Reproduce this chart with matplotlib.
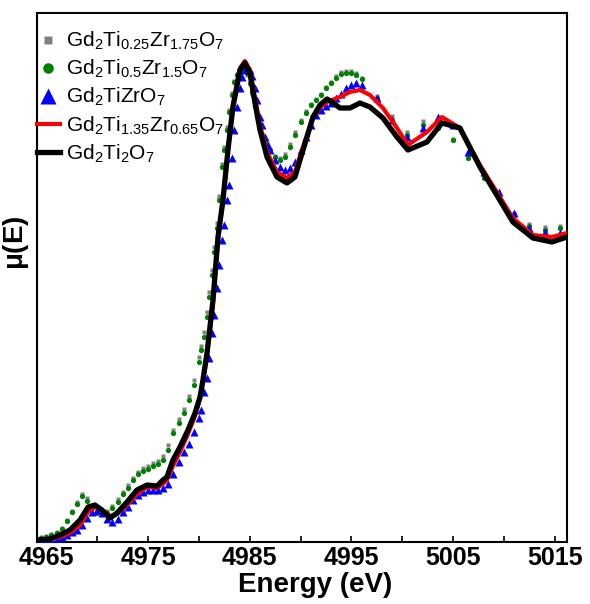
import numpy as np
import matplotlib
matplotlib.use("Agg")
import matplotlib.pyplot as plt

plt.rcParams["font.family"] = ["Liberation Sans", "DejaVu Sans"]
plt.rcParams["mathtext.fontset"] = "custom"
plt.rcParams["mathtext.rm"] = "Liberation Sans"
plt.rcParams["mathtext.it"] = "Liberation Sans:italic"
plt.rcParams["mathtext.bf"] = "Liberation Sans:bold"

# ------------------------------------------------------------------ #
#  Data (mu(E) in arbitrary units)
# ------------------------------------------------------------------ #
# energy grid of the line spectra (Ti/Zr-rich end members)
energy_line = [
    4964.1, 4965.36, 4966.34, 4967.32, 4968.31, 4969.1, 4969.78, 4970.47,
    4971.26, 4971.95, 4972.93, 4973.91, 4974.9, 4975.88, 4976.47, 4976.86,
    4977.45, 4978.14, 4978.93, 4979.62, 4980.11, 4980.4, 4980.8, 4981.09,
    4981.39, 4981.88, 4982.37, 4982.86, 4983.35, 4984.04, 4984.53, 4985.02,
    4985.52, 4986.01, 4986.7, 4987.68, 4988.66, 4989.45, 4989.94, 4990.63,
    4991.22, 4991.91, 4992.6, 4993.09, 4993.87, 4994.86, 4995.84, 4996.82,
    4998.1, 4999.48, 5000.56, 5002.43, 5003.9, 5005.67, 5007.64, 5010.88,
    5012.85, 5014.72, 5016.2,
]
mu_ti2 = [  # Gd2Ti2O7
    0.02, 0.03, 0.07, 0.12, 0.22, 0.35, 0.37, 0.32, 0.24, 0.29, 0.40, 0.52,
    0.57, 0.56, 0.62, 0.65, 0.82, 0.95, 1.12, 1.29, 1.45, 1.62, 1.89, 2.15,
    2.42, 3.05, 3.42, 3.92, 4.35, 4.72, 4.79, 4.69, 4.39, 4.12, 3.85, 3.65,
    3.59, 3.65, 3.82, 4.05, 4.25, 4.37, 4.43, 4.40, 4.34, 4.34, 4.39, 4.35,
    4.24, 4.05, 3.92, 4.00, 4.19, 4.14, 3.75, 3.20, 3.04, 3.00, 3.05,
]
mu_ti135 = [  # Gd2Ti1.35Zr0.65O7
    0.02, 0.03, 0.05, 0.09, 0.17, 0.30, 0.35, 0.32, 0.26, 0.28, 0.37, 0.48,
    0.55, 0.54, 0.58, 0.62, 0.76, 0.90, 1.08, 1.26, 1.43, 1.60, 1.87, 2.12,
    2.39, 3.02, 3.42, 3.92, 4.37, 4.74, 4.81, 4.72, 4.44, 4.17, 3.90, 3.70,
    3.64, 3.70, 3.86, 4.07, 4.24, 4.34, 4.40, 4.42, 4.45, 4.50, 4.52, 4.47,
    4.34, 4.14, 3.97, 4.10, 4.25, 4.14, 3.77, 3.24, 3.07, 3.05, 3.09,
]

# energy grid of the point spectra
energy_pts = [
    4964.5, 4965.0, 4965.5, 4966.0, 4966.5, 4967.0, 4967.5, 4968.0, 4968.5,
    4969.0, 4969.5, 4970.0, 4970.5, 4971.0, 4971.5, 4972.0, 4972.5, 4973.0,
    4973.5, 4974.0, 4974.5, 4975.0, 4975.5, 4976.0, 4976.5, 4977.0, 4977.5,
    4978.0, 4978.5, 4979.0, 4979.5, 4980.0, 4980.25, 4980.5, 4980.75,
    4981.0, 4981.25, 4981.5, 4981.75, 4982.0, 4982.25, 4982.5, 4982.75,
    4983.0, 4983.25, 4983.5, 4983.75, 4984.0, 4984.25, 4984.5, 4984.75,
    4985.0, 4985.25, 4985.5, 4985.75, 4986.0, 4986.25, 4986.5, 4986.75,
    4987.0, 4987.5, 4988.0, 4988.5, 4989.0, 4989.5, 4990.0, 4990.5, 4991.0,
    4991.5, 4992.0, 4992.5, 4993.0, 4993.5, 4994.0, 4994.5, 4995.0, 4995.5,
    4996.0, 4997.5, 4999.0, 5000.5, 5002.0, 5003.5, 5005.0, 5006.5, 5008.0,
    5009.5, 5011.0, 5012.5, 5014.0, 5015.5,
]
mu_ti1 = [  # Gd2TiZrO7
    0.01, 0.02, 0.02, 0.03, 0.05, 0.07, 0.10, 0.12, 0.17, 0.24, 0.30, 0.32,
    0.29, 0.23, 0.20, 0.23, 0.30, 0.35, 0.42, 0.47, 0.50, 0.52, 0.52, 0.52,
    0.54, 0.58, 0.68, 0.80, 0.90, 0.98, 1.10, 1.24, 1.32, 1.50, 1.64, 1.84,
    2.09, 2.27, 2.54, 2.77, 3.02, 3.17, 3.42, 3.57, 3.84, 4.12, 4.35, 4.54,
    4.65, 4.72, 4.75, 4.72, 4.66, 4.54, 4.42, 4.25, 4.17, 4.05, 3.97, 3.92,
    3.82, 3.75, 3.72, 3.74, 3.80, 3.92, 4.05, 4.17, 4.27, 4.32, 4.36, 4.39,
    4.44, 4.48, 4.54, 4.57, 4.59, 4.57, 4.44, 4.22, 4.05, 4.14, 4.25, 4.17,
    3.90, 3.70, 3.50, 3.29, 3.14, 3.10, 3.09,
]
mu_ti05 = [  # Gd2Ti0.5Zr1.5O7
    0.04, 0.05, 0.07, 0.09, 0.13, 0.21, 0.30, 0.38, 0.46, 0.41, 0.34, 0.29,
    0.28, 0.29, 0.34, 0.40, 0.48, 0.54, 0.62, 0.68, 0.71, 0.73, 0.76, 0.78,
    0.82, 0.92, 1.09, 1.19, 1.29, 1.42, 1.57, 1.80, 1.92, 2.05, 2.25, 2.45,
    2.67, 2.90, 3.14, 3.42, 3.75, 3.92, 4.12, 4.30, 4.47, 4.60, 4.67, 4.71,
    4.73, 4.73, 4.69, 4.59, 4.50, 4.36, 4.26, 4.14, 4.07, 4.00, 3.94, 3.92,
    3.85, 3.82, 3.85, 3.95, 4.07, 4.20, 4.29, 4.37, 4.42, 4.47, 4.54, 4.59,
    4.64, 4.68, 4.69, 4.69, 4.67, 4.63, 4.44, 4.22, 4.07, 4.17, 4.14, 4.02,
    3.84, 3.64, 3.44, 3.27, 3.16, 3.12, 3.14,
]
mu_ti025 = [  # Gd2Ti0.25Zr1.75O7
    0.05, 0.06, 0.08, 0.10, 0.14, 0.22, 0.31, 0.40, 0.48, 0.44, 0.36, 0.30,
    0.29, 0.31, 0.36, 0.43, 0.50, 0.57, 0.64, 0.70, 0.74, 0.76, 0.79, 0.81,
    0.86, 0.97, 1.12, 1.23, 1.33, 1.46, 1.62, 1.85, 1.96, 2.10, 2.30, 2.50,
    2.72, 2.95, 3.19, 3.46, 3.78, 3.95, 4.15, 4.32, 4.49, 4.61, 4.68, 4.72,
    4.73, 4.72, 4.67, 4.58, 4.48, 4.35, 4.25, 4.13, 4.06, 3.99, 3.94, 3.92,
    3.86, 3.84, 3.88, 3.98, 4.10, 4.22, 4.31, 4.38, 4.43, 4.48, 4.55, 4.60,
    4.66, 4.70, 4.71, 4.71, 4.69, 4.64, 4.46, 4.26, 4.10, 4.21, 4.16, 4.03,
    3.85, 3.66, 3.46, 3.29, 3.18, 3.15, 3.16,
]

labels = [
    r"Gd$_\mathregular{2}$Ti$_\mathregular{0.25}$Zr$_\mathregular{1.75}$O$_\mathregular{7}$",
    r"Gd$_\mathregular{2}$Ti$_\mathregular{0.5}$Zr$_\mathregular{1.5}$O$_\mathregular{7}$",
    r"Gd$_\mathregular{2}$TiZrO$_\mathregular{7}$",
    r"Gd$_\mathregular{2}$Ti$_\mathregular{1.35}$Zr$_\mathregular{0.65}$O$_\mathregular{7}$",
    r"Gd$_\mathregular{2}$Ti$_\mathregular{2}$O$_\mathregular{7}$",
]
xticks = [4965, 4975, 4985, 4995, 5005, 5015]

# ------------------------------------------------------------------ #
#  Figure
# ------------------------------------------------------------------ #
fig = plt.figure(figsize=(5.9, 6.04), dpi=100)
ax = fig.add_axes([0.0627, 0.1026, 0.8983, 0.8759])

ax.plot(energy_pts, mu_ti025, ls="none", marker="s", ms=3.0, color="#808080",
        mec="none", label=labels[0], zorder=2)
ax.plot(energy_pts, mu_ti05, ls="none", marker="o", ms=3.8, color="#008000",
        mec="none", label=labels[1], zorder=3)
ax.plot(energy_pts, mu_ti1, ls="none", marker="^", ms=5.5, color="#0000FF",
        mec="none", label=labels[2], zorder=4)
ax.plot(energy_line, mu_ti135, color="#FF0000", lw=3.0, label=labels[3], zorder=5)
ax.plot(energy_line, mu_ti2, color="black", lw=3.8, label=labels[4], zorder=6)

ax.set_xlim(4964.08, 5016.2)
ax.set_ylim(0, 5.29)
ax.set_xticks(xticks)
ax.set_xticks([4970, 4980, 4990, 5000, 5010], minor=True)
ax.set_yticks([])
ax.tick_params(axis="x", which="both", direction="in", length=4, width=1.2,
               labelsize=18, pad=3)
for lab in ax.get_xticklabels():
    lab.set_fontweight("bold")
for sp in ax.spines.values():
    sp.set_linewidth(1.5)

ax.set_xlabel("Energy (eV)", fontsize=20, fontweight="bold")
ax.xaxis.set_label_coords(0.525, -0.056)
ax.set_ylabel(r"$\mathbf{\mu}$(E)", fontsize=20, fontweight="bold")
ax.yaxis.set_label_coords(-0.012, 0.565)

ax.legend(loc="upper left", bbox_to_anchor=(0.0, 0.968), frameon=False,
          fontsize=15, markerscale=2.0, handlelength=1.1, handletextpad=0.3,
          labelspacing=0.28, borderaxespad=0.0, borderpad=0.0)

plt.savefig("out.png", dpi=100)
plt.close()
